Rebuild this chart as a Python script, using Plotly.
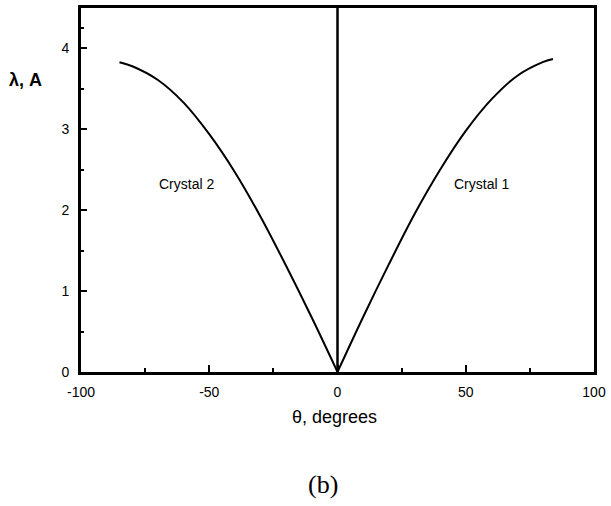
import plotly.graph_objects as go

theta1 = [0, 10, 20, 30, 40, 50, 60, 70, 80, 84]
lam1 = [0, 0.68, 1.33, 1.95, 2.50, 2.98, 3.37, 3.66, 3.83, 3.87]
theta2 = [-85, -80, -70, -60, -50, -40, -30, -20, -10, 0]
lam2 = [3.83, 3.78, 3.61, 3.33, 2.94, 2.47, 1.92, 1.31, 0.67, 0]
vline_x = [0, 0]
vline_y = [0, 4.5]
xticks = [-100, -50, 0, 50, 100]
yticks = [0, 1, 2, 3, 4]

fig = go.Figure()
fig.add_trace(go.Scatter(x=theta1, y=lam1, mode="lines", line=dict(color="black", width=2, shape="spline"), showlegend=False))
fig.add_trace(go.Scatter(x=theta2, y=lam2, mode="lines", line=dict(color="black", width=2, shape="spline"), showlegend=False))
fig.add_trace(go.Scatter(x=vline_x, y=vline_y, mode="lines", line=dict(color="black", width=2.5), showlegend=False))

fnt = dict(family="Liberation Sans, Arial", size=14, color="black")
fig.add_annotation(x=-59, y=2.33, text="Crystal 2", showarrow=False, font=fnt)
fig.add_annotation(x=56, y=2.33, text="Crystal 1", showarrow=False, font=fnt)
fig.add_annotation(xref="paper", yref="paper", x=-0.108, y=0.803, text="<b>λ, A</b>", showarrow=False,
                   font=dict(family="Liberation Sans, Arial", size=18, color="black"), xanchor="center", yanchor="middle")
fig.add_annotation(xref="paper", yref="paper", x=0.495, y=-0.123, text="θ, degrees", showarrow=False,
                   font=dict(family="Liberation Sans, Arial", size=18, color="black"), yanchor="middle")
fig.add_annotation(xref="paper", yref="paper", x=0.471, y=-0.31, text="(b)", showarrow=False,
                   font=dict(family="Liberation Serif, Times New Roman", size=26, color="black"), yanchor="middle")

fig.update_xaxes(range=[-100, 100], tickvals=xticks, ticktext=[str(v) for v in xticks],
                 showline=True, linecolor="black", linewidth=2.5, mirror=True,
                 ticks="inside", ticklen=7, tickwidth=2, tickcolor="black", ticklabelstandoff=5,
                 minor=dict(tickvals=[-75, -25, 25, 75], ticks="inside", ticklen=4, tickwidth=2, tickcolor="black"),
                 showgrid=False, zeroline=False, tickfont=fnt)
fig.update_yaxes(range=[0, 4.5], tickvals=yticks, ticktext=[str(v) for v in yticks],
                 showline=True, linecolor="black", linewidth=3, mirror=True,
                 ticks="inside", ticklen=6, tickwidth=2, tickcolor="black", ticklabelstandoff=6,
                 minor=dict(tickvals=[0.5, 1.5, 2.5, 3.5, 4.25], ticks="inside", ticklen=3, tickwidth=1.5, tickcolor="black"),
                 showgrid=False, zeroline=False, tickfont=fnt)
fig.update_layout(width=611, height=506, margin=dict(l=81, r=12, t=5, b=134),
                  plot_bgcolor="white", paper_bgcolor="white")
fig.write_html("out.html")
